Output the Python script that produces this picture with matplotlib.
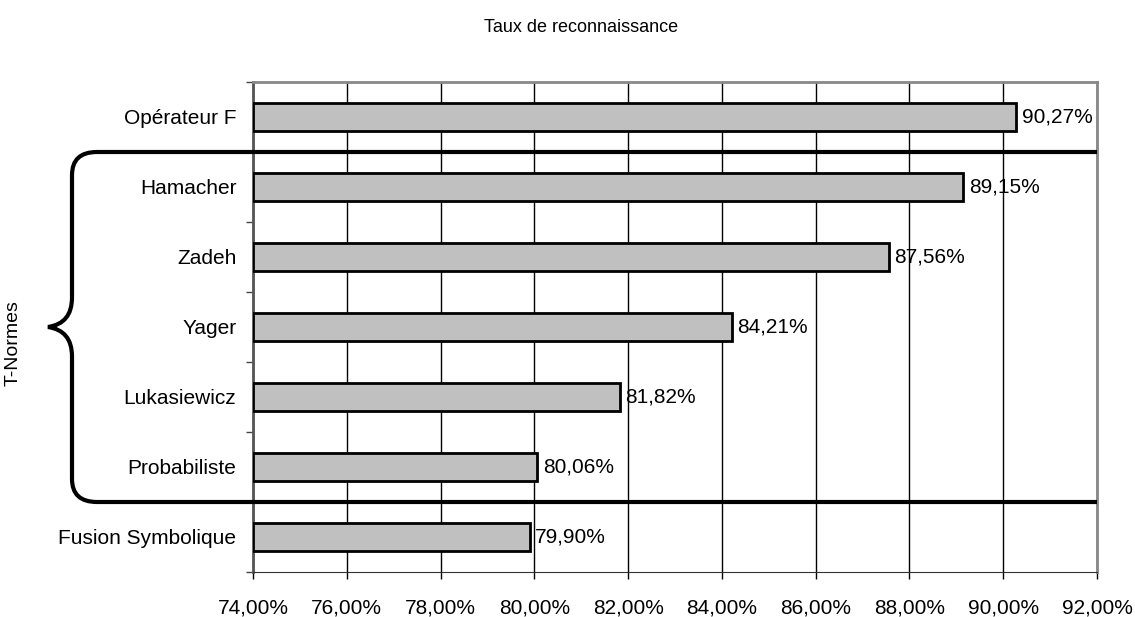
import matplotlib
matplotlib.use("Agg")
import matplotlib.pyplot as plt
from matplotlib.path import Path
from matplotlib.patches import PathPatch
from matplotlib.ticker import FuncFormatter, MultipleLocator, FixedLocator
import matplotlib.transforms as mtransforms

plt.rcParams['font.family'] = ['Liberation Sans', 'DejaVu Sans']

categories = ["Opérateur F", "Hamacher", "Zadeh", "Yager", "Lukasiewicz",
              "Probabiliste", "Fusion Symbolique"]
values = [90.27, 89.15, 87.56, 84.21, 81.82, 80.06, 79.90]
value_labels = ["90,27%", "89,15%", "87,56%", "84,21%", "81,82%", "80,06%", "79,90%"]
group_label = "T-Normes"
title = "Taux de reconnaissance"

fig = plt.figure(figsize=(11.35, 6.17), dpi=100)
ax = fig.add_axes([253 / 1135, 1 - 572 / 617, 844 / 1135, 490 / 617])

y = list(range(len(categories)))
ax.barh(y, [v - 74 for v in values], left=74, height=0.4,
        color="#c0c0c0", edgecolor="black", linewidth=2, zorder=3)
for yi, v, lab in zip(y, values, value_labels):
    ax.text(v + 0.12, yi, lab, va="center", ha="left", fontsize=15, zorder=4)

ax.set_xlim(74, 92)
ax.set_ylim(len(categories) - 0.5, -0.5)
ax.xaxis.set_major_locator(MultipleLocator(2))
ax.xaxis.set_major_formatter(FuncFormatter(lambda x, p: f"{x:.2f}%".replace(".", ",")))
ax.grid(axis="x", color="black", linewidth=1, zorder=1)

ax.set_yticks(y)
ax.set_yticklabels(categories, fontsize=15)
ax.yaxis.set_minor_locator(FixedLocator([i - 0.5 for i in range(len(categories) + 1)]))
ax.tick_params(axis="y", which="major", length=0, pad=12)
ax.tick_params(axis="y", which="minor", length=5, color="#444444", width=1)
ax.tick_params(axis="x", labelsize=15, length=5, width=1, pad=14)

ax.spines["left"].set_color("#555555")
ax.spines["left"].set_linewidth(2)
ax.spines["bottom"].set_color("#333333")
ax.spines["top"].set_color("#888888")
ax.spines["top"].set_linewidth(2)
ax.spines["right"].set_color("#888888")
ax.spines["right"].set_linewidth(2)

fig.text(581 / 1135, 1 - 28 / 617, title, ha="center", va="center", fontsize=13)
fig.text(13 / 1135, 1 - 343 / 617, group_label, ha="center", va="center",
         rotation=90, fontsize=14)

# curly brace around the T-norm rows, x in axes fraction, y in data
trans = mtransforms.blended_transform_factory(ax.transAxes, ax.transData)
def px(x):
    return (x - 253) / 844
top, bot = 0.5, 5.5
mid = (top + bot) / 2
r = 0.33
verts = [
    (1.0, top), (px(97), top),
    (px(72), top), (px(72), top + r),
    (px(72), mid - 0.42),
    (px(72), mid - 0.05), (px(48), mid),
    (px(72), mid + 0.05), (px(72), mid + 0.42),
    (px(72), bot - r),
    (px(72), bot), (px(97), bot),
    (1.0, bot),
]
codes = [Path.MOVETO, Path.LINETO,
         Path.CURVE3, Path.CURVE3,
         Path.LINETO,
         Path.CURVE3, Path.CURVE3,
         Path.CURVE3, Path.CURVE3,
         Path.LINETO,
         Path.CURVE3, Path.CURVE3,
         Path.LINETO]
brace = PathPatch(Path(verts, codes), transform=trans, facecolor="none",
                  edgecolor="black", linewidth=3, clip_on=False, zorder=5)
ax.add_patch(brace)

fig.savefig("out.png", dpi=100)
